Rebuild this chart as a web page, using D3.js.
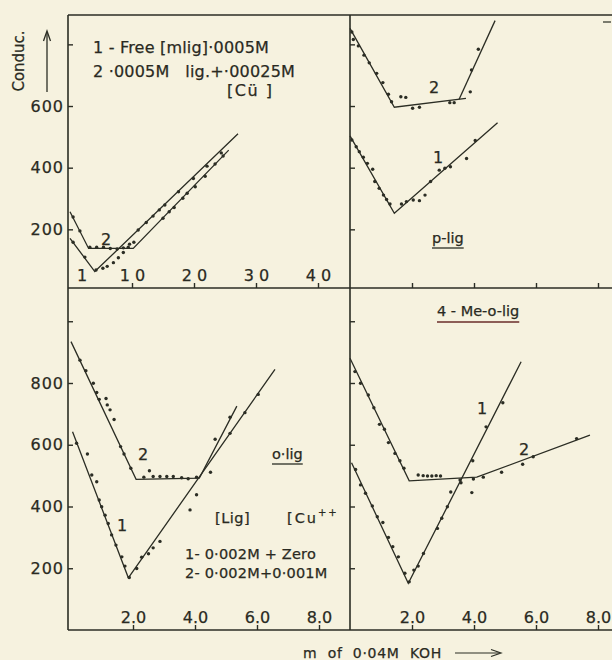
<!DOCTYPE html>
<html><head><meta charset="utf-8">
<script src="https://cdn.jsdelivr.net/npm/d3@7"></script>
<style>
html,body{margin:0;padding:0;background:#f6f2df;}
svg{display:block;}
text{font-family:"DejaVu Sans",sans-serif;fill:#2a2a22;white-space:pre;stroke:#2a2a22;stroke-width:0.25px;}
</style>
</head><body>
<svg id="c" width="612" height="660"></svg>
<script>
// ---------- DATA ----------
// Top-left panel (free ligand vs. Cu complex), x: m of titrant, y: conductance
const tlLine1 = [[0,171],[4,63],[27.1,510]];
const tlLine2 = [[0,257],[3,138],[10.2,138],[25.6,457]];
const tlDots1 = [[0.5,158],[2.4,110],[4.2,68],[5.3,74],[6.0,80],[7.0,92],[7.8,108],[8.6,125],[9.6,152],
  [11.0,198],[12.3,222],[13.4,243],[14.4,263],[15.3,279],[17.5,322],[19.9,365],[22.1,405],[24.4,448]];
const tlDots2 = [[0.5,240],[1.6,195],[3.2,142],[4.3,142],[5.4,142],[6.5,138],[7.6,136],[8.6,140],[9.4,142],
  [10.3,158],[15.0,236],[16.0,257],[16.8,271],[18.2,301],[18.9,317],[20.2,338],[21.8,372],[23.4,412],[24.7,438]];

// Top-right panel (p-lig)
const trLine1 = [[0,503],[7.15,252],[23.8,546]];
const trLine2a = [[0,852],[7.15,596],[18.7,625]];
const trLine2b = [[17.6,622],[23.4,877]];
const trDots1 = [[0.3,490],[1.0,468],[1.5,452],[2.15,434],[2.8,414],[3.66,395],[4.0,355],[4.7,333],[5.4,311],[5.9,297],[6.45,282],
  [8.3,282],[9.1,290],[10.2,295],[11.2,293],[12.1,311],[13.0,355],[14.4,392],[15.3,398],[16.2,403],[18.8,430],[20.2,488]];
const trDots2 = [[0.3,840],[0.54,816],[1.35,795],[2.26,765],[3.1,740],[4.3,706],[5.3,676],[6.2,638],[6.7,614],
  [8.2,630],[9.0,628],[10.1,593],[11.2,596],[16.1,611],[16.8,611],[19.4,646],[19.6,717],[20.7,784]];

// Bottom-left panel (o-lig)
const blLine1 = [[0.05,642],[1.85,169],[6.58,844]];
const blLine2 = [[0,934],[2.1,488],[4.14,492],[5.35,725]];
const blDots1 = [[0.18,605],[0.53,570],[0.67,502],[0.83,480],[0.91,421],[0.99,399],[1.1,372],[1.2,345],[1.31,308],[1.45,275],
  [1.64,237],[1.74,207],[1.88,170],[2.12,199],[2.28,236],[2.5,247],[2.65,266],[2.87,287],[3.84,389],[4.05,438],[4.5,511],
  [5.13,637],[5.61,704],[6.04,763]];
const blDots2 = [[0.29,874],[0.48,840],[0.72,799],[0.83,769],[0.91,747],[1.13,750],[1.17,729],[1.26,713],[1.39,682],
  [1.6,594],[1.71,570],[1.93,524],[2.35,495],[2.53,516],[2.65,497],[2.87,497],[3.09,497],[3.3,497],[3.57,493],[3.78,490],
  [4.05,495],[4.65,618],[5.13,689]];

// Bottom-right panel (4-Me-o-lig)
const brLine1 = [[0.05,542],[1.88,151],[5.52,869]];
const brLine2 = [[0,880],[1.91,483],[4.09,495],[7.74,631]];
const brDots1 = [[0.18,520],[0.34,470],[0.5,443],[0.72,402],[0.88,367],[1.06,348],[1.24,300],[1.38,270],[1.56,237],[1.77,184],
  [1.91,156],[2.06,194],[2.2,207],[2.37,248],[2.82,329],[2.96,362],[3.14,399],[3.25,447],[3.58,477],[3.93,445],[3.96,548],
  [4.39,658],[4.93,736]];
const brDots2 = [[0.16,837],[0.34,799],[0.59,761],[0.77,720],[0.95,666],[1.11,650],[1.24,607],[1.45,572],[1.61,548],[1.74,524],
  [2.2,502],[2.36,500],[2.5,499],[2.64,499],[2.78,500],[2.92,499],[3.55,486],[3.98,489],[4.3,495],[4.89,511],[5.57,537],
  [5.91,561],[7.31,620]];

// Ticks and labels
const topYTicks = [200,400,600,800];
const topYLabels = ["200","400","600",""];
const botYTicks = [200,400,600,800,1000];
const botYLabels = ["200","400","600","800",""];
const topXTicks = [10,20,30,40];
const topXLabels = ["1 0","2 0","3 0","4 0"];
const botXTicks = [2,4,6,8];
const botXLabels = ["2.0","4.0","6.0","8.0"];

// Texts
const yTitle = "Conduc.";
const xTitle = "m  of  0·04M  KOH";
const tlLegend = ["1 - Free [mlig]·0005M", "2 ·0005M   lig.+·00025M", "[Cü ]"];
const trName = "p-lig";
const blName = "o·lig";
const brName = "4 - Me-o-lig";
const blLegendHead = ["[Lig]", "[Cu", "++"];
const blLegend = ["1- 0·002M + Zero", "2- 0·002M+0·001M"];

// ---------- LAYOUT ----------
const ink = "#2b2d24";
const svg = d3.select("#c");
svg.append("rect").attr("width",612).attr("height",660).attr("fill","#f6f2df");

const L = 68, R = 612, T = 15, MID_X = 350, MID_Y = 288, B = 630;

const xTL = d3.scaleLinear().domain([0,45]).range([70, 70+45*6.2]);
const xTR = d3.scaleLinear().domain([0,42]).range([350, 350+42*6.2]);
const xBL = d3.scaleLinear().domain([0,9]).range([71, 71+9*31]);
const xBR = d3.scaleLinear().domain([0,8.5]).range([350, 350+8.5*31]);
const yTop = d3.scaleLinear().domain([0,900]).range([291, 291-900*0.3083]);
const yBot = d3.scaleLinear().domain([0,1100]).range([630, 630-1100*0.30875]);

// frame
const frame = svg.append("g").attr("stroke", ink).attr("stroke-width", 1.6).attr("fill","none");
frame.append("line").attr("x1",L).attr("x2",L).attr("y1",T).attr("y2",B);
frame.append("line").attr("x1",L).attr("x2",R).attr("y1",T).attr("y2",T);
frame.append("line").attr("x1",MID_X).attr("x2",MID_X).attr("y1",T).attr("y2",B);
frame.append("line").attr("x1",L).attr("x2",R).attr("y1",MID_Y).attr("y2",MID_Y);
frame.append("line").attr("x1",L).attr("x2",R).attr("y1",B).attr("y2",B);
frame.append("line").attr("x1",603).attr("x2",611).attr("y1",22).attr("y2",22).attr("stroke-width",1.2);

function styleAxis(g){
  g.select(".domain").remove();
  g.selectAll(".tick line").attr("stroke", ink).attr("stroke-width",1.4);
  g.selectAll(".tick text").attr("fill", "#2a2a22").style("font-family","DejaVu Sans").style("font-size","16px");
}

// y axes
const gyTL = svg.append("g").attr("transform",`translate(${L},0)`)
  .call(d3.axisLeft(yTop).tickValues(topYTicks).tickSize(-5).tickPadding(4).tickFormat((d,i)=>topYLabels[i]));
styleAxis(gyTL); gyTL.selectAll(".tick text").style("letter-spacing","1px");
const gyBL = svg.append("g").attr("transform",`translate(${L},0)`)
  .call(d3.axisLeft(yBot).tickValues(botYTicks).tickSize(-5).tickPadding(4).tickFormat((d,i)=>botYLabels[i]));
styleAxis(gyBL); gyBL.selectAll(".tick text").style("letter-spacing","1px");
const gyTR = svg.append("g").attr("transform",`translate(${MID_X},0)`)
  .call(d3.axisLeft(yTop).tickValues(topYTicks).tickSize(-5).tickFormat(""));
styleAxis(gyTR);
const gyBR = svg.append("g").attr("transform",`translate(${MID_X},0)`)
  .call(d3.axisLeft(yBot).tickValues(botYTicks).tickSize(-5).tickFormat(""));
styleAxis(gyBR);

// x axes
function xAxis(scale, ticks, labels, y){
  const g = svg.append("g").attr("transform",`translate(0,${y})`)
    .call(d3.axisBottom(scale).tickValues(ticks).tickSize(-5).tickFormat((d,i)=>labels ? labels[i] : ""));
  styleAxis(g);
  g.selectAll(".tick text").attr("y",-7).attr("dy",0);
  return g;
}
xAxis(xTL, topXTicks, topXLabels, MID_Y);
xAxis(xTR, topXTicks, null, MID_Y);
xAxis(xBL, botXTicks, botXLabels, B);
xAxis(xBR, botXTicks, botXLabels, B);

// curves and points
const panels = [
  {x:xTL, y:yTop, lines:[tlLine1, tlLine2], dots:[tlDots1, tlDots2]},
  {x:xTR, y:yTop, lines:[trLine1, trLine2a, trLine2b], dots:[trDots1, trDots2]},
  {x:xBL, y:yBot, lines:[blLine1, blLine2], dots:[blDots1, blDots2]},
  {x:xBR, y:yBot, lines:[brLine1, brLine2], dots:[brDots1, brDots2]},
];
panels.forEach(p=>{
  const line = d3.line().x(d=>p.x(d[0])).y(d=>p.y(d[1]));
  const g = svg.append("g");
  g.selectAll("path").data(p.lines).join("path")
    .attr("d", line).attr("fill","none").attr("stroke", ink).attr("stroke-width",1.3);
  p.dots.forEach(ds=>{
    g.append("g").selectAll("circle").data(ds).join("circle")
      .attr("cx", d=>p.x(d[0])).attr("cy", d=>p.y(d[1])).attr("r",1.7).attr("fill", ink);
  });
});

// text helpers
function txt(x, y, s, size, anchor, ls){
  const t = svg.append("text").attr("x",x).attr("y",y).attr("font-size",size)
    .attr("text-anchor",anchor||"start").text(s);
  if (ls) t.style("letter-spacing", ls+"px");
  return t;
}
function underline(t, color, off){
  const bb = t.node().getBBox();
  svg.append("line").attr("x1",bb.x).attr("x2",bb.x+bb.width)
    .attr("y1",+t.attr("y")+off).attr("y2",+t.attr("y")+off)
    .attr("stroke",color).attr("stroke-width",1.3);
}

// y title + arrow
svg.append("text").attr("transform","translate(24,61) rotate(-90)").attr("text-anchor","middle")
  .attr("font-size",15).text(yTitle);
svg.append("line").attr("x1",47).attr("x2",47).attr("y1",92).attr("y2",33).attr("stroke",ink).attr("stroke-width",1.3);
svg.append("path").attr("d","M43.5,41 L47,31 L50.5,41").attr("fill","none").attr("stroke",ink).attr("stroke-width",1.3);

// x title + arrow
txt(303, 658, xTitle, 14, "start", 0.7);
svg.append("line").attr("x1",455).attr("x2",500).attr("y1",653).attr("y2",653).attr("stroke",ink).attr("stroke-width",1.2);
svg.append("path").attr("d","M491,649.5 L501,653 L491,656.5").attr("fill","none").attr("stroke",ink).attr("stroke-width",1.2);

// top-left legend
txt(93, 53, tlLegend[0], 16, "start", 0.2);
txt(93, 77, tlLegend[1], 16, "start", 0.2);
txt(227, 96, tlLegend[2], 16, "start", 1.5);
// curve numbers
txt(106, 245, "2", 16, "middle");
txt(82, 281, "1", 16, "middle");
txt(434, 93, "2", 16, "middle");
txt(438, 163, "1", 16, "middle");
txt(143, 460, "2", 16, "middle");
txt(122, 531, "1", 16, "middle");
txt(482, 414, "1", 16, "middle");
txt(524, 455, "2", 16, "middle");

// panel names
underline(txt(432, 243, trName, 14.5), ink, 5);
underline(txt(272, 459, blName, 14.5), ink, 5);
underline(txt(437, 316, brName, 14.5), "#6a2d2a", 6);

// bottom-left legend
txt(215, 523, blLegendHead[0], 14.5, "start", 0.5);
const cu = txt(287, 523, blLegendHead[1], 14.5, "start", 2);
cu.append("tspan").attr("dy",-7).attr("font-size",10).text(blLegendHead[2]);
txt(185, 559, blLegend[0], 14.5, "start", 0.2);
txt(185, 578, blLegend[1], 14.5, "start", 0.2);
</script>
</body></html>
